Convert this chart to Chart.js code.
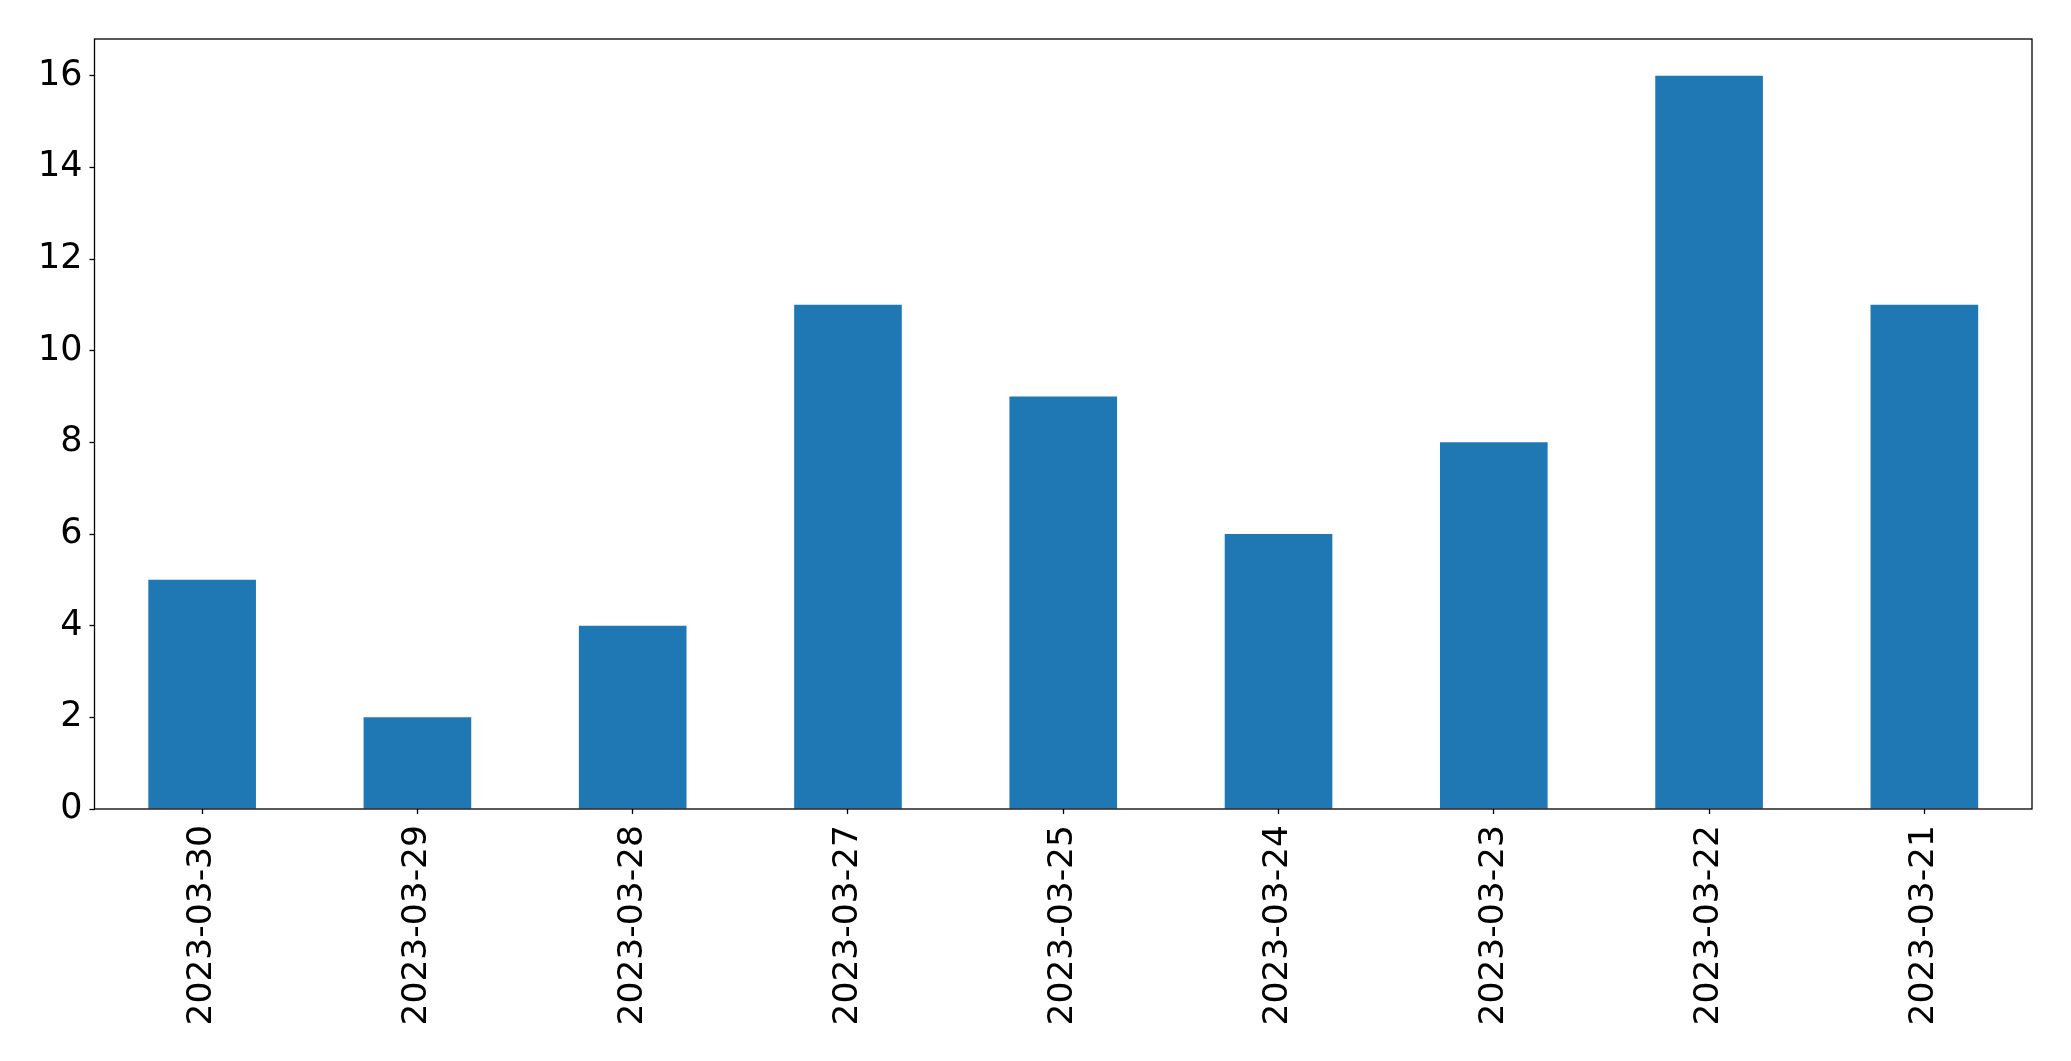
<!DOCTYPE html>
<html>
<head>
<meta charset="utf-8">
<script src="https://cdn.jsdelivr.net/npm/chart.js@4/dist/chart.umd.min.js"></script>
<style>
html,body{margin:0;padding:0;background:#fff;}
#wrap{width:2071px;height:1061px;position:relative;}
</style>
</head>
<body>
<div id="wrap"><canvas id="c" width="2071" height="1061"></canvas></div>
<script>
const categories = ["2023-03-30","2023-03-29","2023-03-28","2023-03-27","2023-03-25","2023-03-24","2023-03-23","2023-03-22","2023-03-21"];
const counts = [5, 2, 4, 11, 9, 6, 8, 16, 11];
const yTickValues = [0, 2, 4, 6, 8, 10, 12, 14, 16];
const yMax = 16.8;

const frame = {
  id: 'frame',
  afterDraw(chart) {
    const a = chart.chartArea, ctx = chart.ctx;
    ctx.save();
    ctx.strokeStyle = '#000';
    ctx.lineWidth = 1.3;
    ctx.strokeRect(a.left, a.top, a.right - a.left, a.bottom - a.top);
    ctx.restore();
  }
};

new Chart(document.getElementById('c'), {
  type: 'bar',
  data: {
    labels: categories,
    datasets: [{
      data: counts,
      backgroundColor: '#1f77b4',
      borderWidth: 0,
      categoryPercentage: 1.0,
      barPercentage: 0.5
    }]
  },
  options: {
    responsive: false,
    animation: false,
    layout: { padding: { top: 39, right: 39, left: 0, bottom: 0 } },
    plugins: { legend: { display: false }, tooltip: { enabled: false } },
    scales: {
      x: {
        offset: true,
        grid: { display: true, drawOnChartArea: false, drawTicks: true, tickLength: 5, tickColor: '#000', tickWidth: 1.3, offset: false },
        border: { display: false },
        ticks: { color: '#000', font: { family: 'DejaVu Sans', size: 34.5 }, minRotation: 90, maxRotation: 90, padding: 11, autoSkip: false },
        afterFit(s) { s.height = 252; }
      },
      y: {
        min: 0,
        max: yMax,
        grid: { display: true, drawOnChartArea: false, drawTicks: true, tickLength: 5, tickColor: '#000', tickWidth: 1.3 },
        border: { display: false },
        ticks: { color: '#000', font: { family: 'DejaVu Sans', size: 35 }, padding: 7 },
        afterBuildTicks(s) { s.ticks = yTickValues.map(v => ({ value: v })); },
        afterFit(s) { s.width = 94.5; }
      }
    }
  },
  plugins: [frame]
});
</script>
</body>
</html>
